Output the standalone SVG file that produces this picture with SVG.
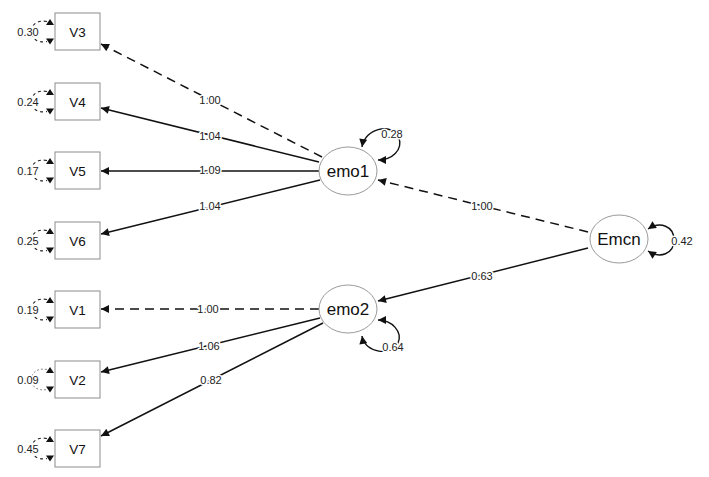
<svg xmlns="http://www.w3.org/2000/svg" xmlns:xlink="http://www.w3.org/1999/xlink" width="709" height="477" viewBox="0 0 709 477">
<style>
.box{fill:#fff;stroke:#8c8c8c;stroke-width:1}
.ell{fill:#fff;stroke:#9a9a9a;stroke-width:1}
.nt{font-family:"Liberation Sans",Arial,sans-serif;font-size:13.5px;fill:#111;text-anchor:middle}
.lt{font-family:"Liberation Sans",Arial,sans-serif;font-size:17px;fill:#111;text-anchor:middle}
.lab{font-family:"Liberation Sans",Arial,sans-serif;font-size:11px;fill:#222;text-anchor:middle;stroke:#fff;stroke-width:3;stroke-linejoin:round;paint-order:stroke fill}
.ln{fill:none;stroke:#111;stroke-width:1.5;marker-end:url(#arr)}
.ds{stroke-dasharray:9 6}
.loop{fill:none;stroke:#111;stroke-width:1.4;marker-start:url(#arr2);marker-end:url(#arr)}
.res{fill:none;stroke:#222;stroke-width:1.1;stroke-dasharray:3 3}
.res2{fill:none;stroke:#888;stroke-width:1;stroke-dasharray:2 2}
.tri{fill:#111}
</style>
<defs>
<marker id="arr" viewBox="0 0 10 10" refX="10" refY="5" markerWidth="9" markerHeight="8" markerUnits="userSpaceOnUse" orient="auto"><path d="M0,0 L10,5 L0,10 z" fill="#111"/></marker>
<marker id="arr2" viewBox="0 0 10 10" refX="10" refY="5" markerWidth="9" markerHeight="8" markerUnits="userSpaceOnUse" orient="auto-start-reverse"><path d="M0,0 L10,5 L0,10 z" fill="#111"/></marker>
<path id="up" d="M-4,0 L4,0 L0,-6 z"/>
<path id="dn" d="M-4,0 L4,0 L0,6 z"/>
</defs>

<g id="connectors">
<path class="ln ds" d="M322,157 L101,44"/>
<text class="lab" x="210" y="104">1.00</text>
<path class="ln" d="M319,162 L101,108"/>
<text class="lab" x="210" y="140">1.04</text>
<path class="ln" d="M319,171 L101,171"/>
<text class="lab" x="210" y="174">1.09</text>
<path class="ln" d="M320,180 L101,234"/>
<text class="lab" x="210" y="210">1.04</text>
<path class="ln ds" d="M588,232 L378,180"/>
<text class="lab" x="482" y="210">1.00</text>
<path class="ln" d="M588,248 L378,301"/>
<text class="lab" x="482" y="280">0.63</text>
<path class="ln ds" d="M319,309 L101,309"/>
<text class="lab" x="208" y="313">1.00</text>
<path class="ln" d="M320,318 L101,372"/>
<text class="lab" x="209" y="350">1.06</text>
<path class="ln" d="M323,323 L101,436"/>
<text class="lab" x="211" y="384">0.82</text>

<path class="loop" d="M362,147 C365,128 392,122 399,138 C403,150 392,160 378,160"/>
<text class="lab" x="392" y="138">0.28</text>
<path class="loop" d="M378,320 C392,320 403,332 398,343 C392,356 365,354 362,336"/>
<text class="lab" x="393" y="351">0.64</text>
<path class="loop" d="M648,229 C660,221 674,226 674,240 C674,254 660,259 648,251"/>
<text class="lab" x="682" y="245">0.42</text>
</g>

<g id="V3">
<rect class="box" x="55" y="13" width="45" height="37"/>
<text class="nt" x="77.5" y="36.5">V3</text>
<path class="res" d="M47,21.5 C26,17.5 26,45.5 47,41.5"/>
<use href="#up" class="tri" x="50" y="25"/><use href="#dn" class="tri" x="50" y="38.5"/>
<text class="lab" x="28" y="36">0.30</text>
</g>
<g id="V4">
<rect class="box" x="55" y="83" width="45" height="37"/>
<text class="nt" x="77.5" y="106.5">V4</text>
<path class="res" d="M47,91.5 C26,87.5 26,115.5 47,111.5"/>
<use href="#up" class="tri" x="50" y="95"/><use href="#dn" class="tri" x="50" y="108.5"/>
<text class="lab" x="28" y="106">0.24</text>
</g>
<g id="V5">
<rect class="box" x="55" y="152" width="45" height="37"/>
<text class="nt" x="77.5" y="175.5">V5</text>
<path class="res" d="M47,160.5 C26,156.5 26,184.5 47,180.5"/>
<use href="#up" class="tri" x="50" y="164"/><use href="#dn" class="tri" x="50" y="177.5"/>
<text class="lab" x="28" y="175">0.17</text>
</g>
<g id="V6">
<rect class="box" x="55" y="222" width="45" height="37"/>
<text class="nt" x="77.5" y="245.5">V6</text>
<path class="res" d="M47,230.5 C26,226.5 26,254.5 47,250.5"/>
<use href="#up" class="tri" x="50" y="234"/><use href="#dn" class="tri" x="50" y="247.5"/>
<text class="lab" x="28" y="245">0.25</text>
</g>
<g id="V1">
<rect class="box" x="55" y="291" width="45" height="37"/>
<text class="nt" x="77.5" y="314.5">V1</text>
<path class="res" d="M47,299.5 C26,295.5 26,323.5 47,319.5"/>
<use href="#up" class="tri" x="50" y="303"/><use href="#dn" class="tri" x="50" y="316.5"/>
<text class="lab" x="28" y="314">0.19</text>
</g>
<g id="V2">
<rect class="box" x="55" y="361" width="45" height="37"/>
<text class="nt" x="77.5" y="384.5">V2</text>
<path class="res2" d="M47,369.5 C26,365.5 26,393.5 47,389.5"/>
<use href="#up" class="tri" x="50" y="373"/><use href="#dn" class="tri" x="50" y="386.5"/>
<text class="lab" x="28" y="384">0.09</text>
</g>
<g id="V7">
<rect class="box" x="55" y="430" width="45" height="37"/>
<text class="nt" x="77.5" y="453.5">V7</text>
<path class="res" d="M47,438.5 C26,434.5 26,462.5 47,458.5"/>
<use href="#up" class="tri" x="50" y="442"/><use href="#dn" class="tri" x="50" y="455.5"/>
<text class="lab" x="28" y="453">0.45</text>
</g>

<g id="emo1">
<ellipse class="ell" cx="348" cy="171" rx="29" ry="24"/>
<text class="lt" x="348" y="177">emo1</text>
</g>
<g id="emo2">
<ellipse class="ell" cx="348" cy="309" rx="29" ry="24"/>
<text class="lt" x="348" y="315">emo2</text>
</g>
<g id="Emcn">
<ellipse class="ell" cx="619" cy="239" rx="29" ry="24"/>
<text class="lt" x="619" y="245">Emcn</text>
</g>
</svg>
